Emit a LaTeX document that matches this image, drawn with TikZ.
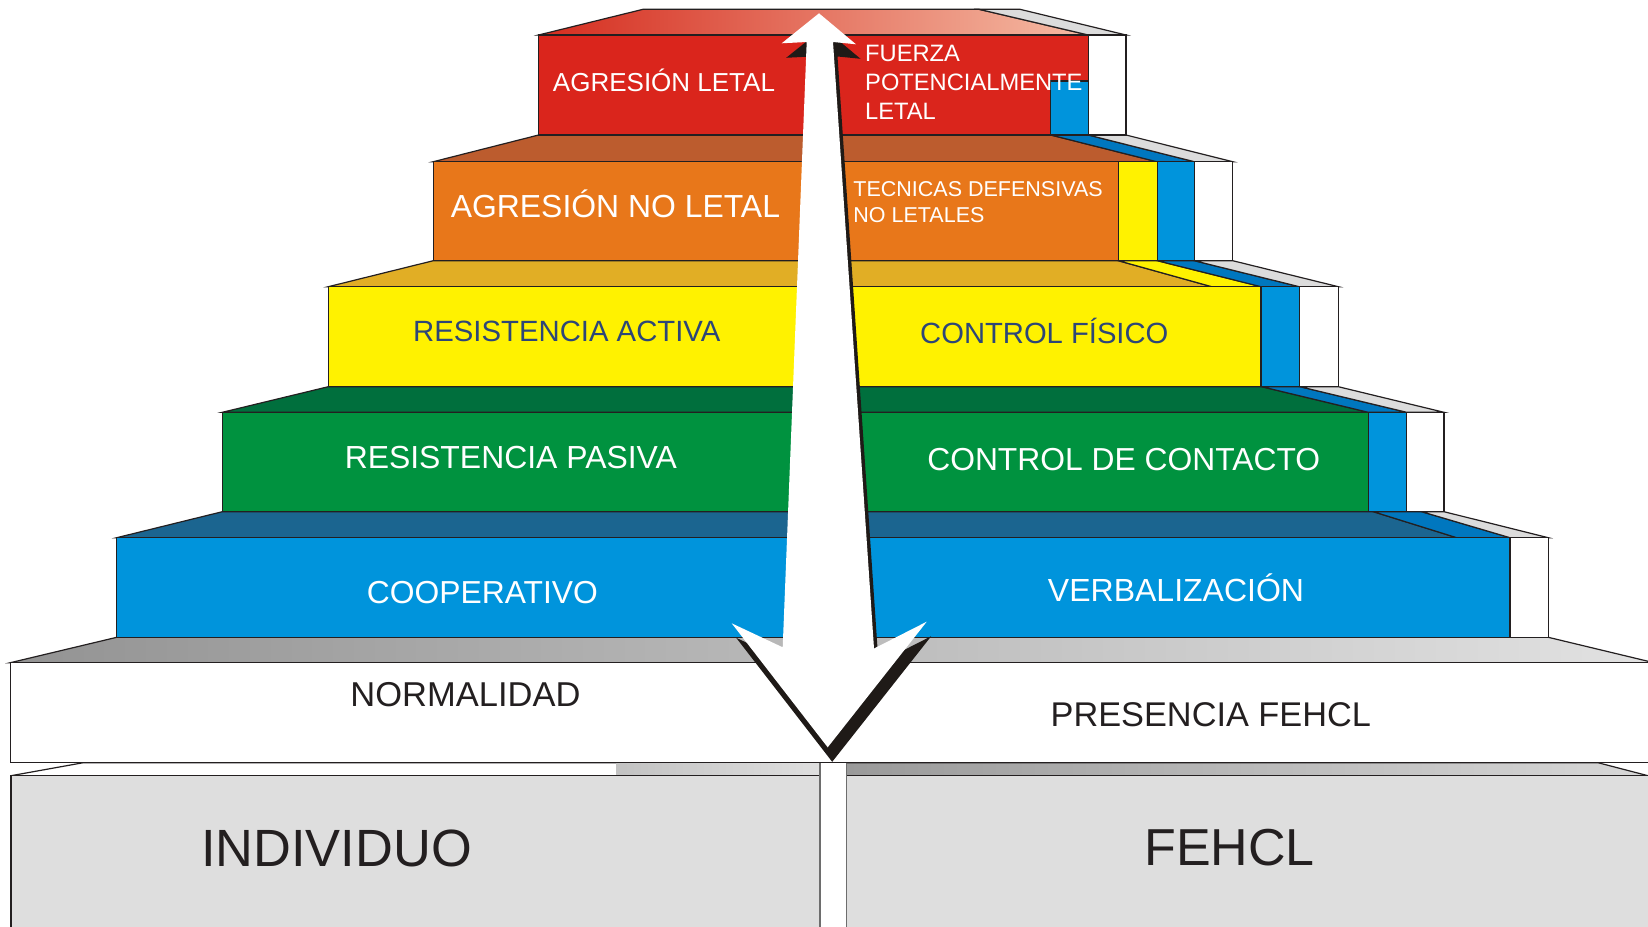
\documentclass[tikz,border=0pt]{standalone}
\usepackage{fontspec}
\setmainfont{Liberation Sans}
\newcommand{\myfs}[1]{\fontsize{#1}{#1}\selectfont}
\definecolor{outl}{HTML}{231F20}
\definecolor{cred}{HTML}{DA251C}
\definecolor{credL}{HTML}{D52D1F}
\definecolor{credR}{HTML}{F5BCA5}
\definecolor{corange}{HTML}{E8771A}
\definecolor{cbrown}{HTML}{BC5C2E}
\definecolor{cyellow}{HTML}{FFF200}
\definecolor{cochre}{HTML}{E1AE25}
\definecolor{cgreen}{HTML}{00923F}
\definecolor{cdgreen}{HTML}{006F3D}
\definecolor{cblue}{HTML}{0094DC}
\definecolor{cdblue}{HTML}{1B6590}
\definecolor{cband}{HTML}{0077BF}
\definecolor{cgrayband}{HTML}{DCDCDC}
\definecolor{cbase}{HTML}{DEDEDE}
\definecolor{cnavy}{HTML}{2D4677}
\definecolor{cshadow}{HTML}{1F1A17}
\definecolor{gslabL}{HTML}{939393}
\definecolor{gslabR}{HTML}{E2E2E2}
\definecolor{glowL}{HTML}{9A9A9A}
\definecolor{glowR}{HTML}{D8D8D8}
\definecolor{gmidL}{HTML}{C2C2C2}
\definecolor{gmidR}{HTML}{DFDFDF}
\definecolor{cgapline}{HTML}{6D6D6D}
\begin{document}
\begin{tikzpicture}[x=0.5pt,y=-0.5pt,line join=miter,
  edge/.style={draw=outl,line width=0.6pt},
  lbl/.style={anchor=base,inner sep=0pt,text=white},
  lbll/.style={anchor=base west,inner sep=0pt,text=white},
  navy/.style={anchor=base,inner sep=0pt,text=cnavy},
  blk/.style={anchor=base,inner sep=0pt,text=outl}]
\useasboundingbox (0,0) rectangle (1648,926);
\fill[white] (0,0) rectangle (1648,926);
\clip (0,0) rectangle (1648,926);

% ---------- lower base ----------
\shade[left color=glowL,right color=glowR] (846.7,762.7) -- (1598,762.7) -- (1648,775.7) -- (846.7,775.7) -- cycle;
\draw[edge] (846.7,762.7) -- (1598,762.7) -- (1648,775.7);
\filldraw[fill=white,edge] (11,775.7) -- (83.3,762.7) -- (820,762.7) -- (820,775.7) -- cycle;
\shade[left color=gmidL,right color=gmidR] (616,763) rectangle (820,775.7);
\filldraw[fill=cbase,edge] (11,775.7) rectangle (820,940);
\filldraw[fill=cbase,edge] (846.7,775.7) rectangle (1660,940);
\filldraw[fill=white,draw=cgapline,line width=0.6pt] (820,762.7) rectangle (846.7,940);

% ---------- slab ----------
\shadedraw[left color=gslabL,right color=gslabR,edge] (10.3,662.7) -- (116.7,637.3) -- (1548.3,637.3) -- (1654,662.7) -- cycle;
\filldraw[fill=white,edge] (10.3,662.7) rectangle (1660,762.7);

% ---------- level 5 (blue) ----------
\filldraw[fill=cdblue,edge] (116.7,537.7) -- (222.3,511.7) -- (1373.3,511.7) -- (1456.7,537.7) -- cycle;
\filldraw[fill=cband,edge] (1373.3,511.7) -- (1421.7,511.7) -- (1510,537.7) -- (1456.7,537.7) -- cycle;
\filldraw[fill=cgrayband,edge] (1421.7,511.7) -- (1444,511.7) -- (1548.3,537.7) -- (1510,537.7) -- cycle;
\filldraw[fill=cblue,edge] (116.7,537.7) rectangle (1510,637.3);
\filldraw[fill=white,edge] (1510,537.7) rectangle (1548.3,637.3);

% ---------- level 4 (green) ----------
\filldraw[fill=cdgreen,edge] (222.3,412.3) -- (328.3,386.7) -- (1261.7,386.7) -- (1368.3,412.3) -- cycle;
\filldraw[fill=cband,edge] (1261.7,386.7) -- (1300,386.7) -- (1406.7,412.3) -- (1368.3,412.3) -- cycle;
\filldraw[fill=cgrayband,edge] (1300,386.7) -- (1338.3,386.7) -- (1444,412.3) -- (1406.7,412.3) -- cycle;
\filldraw[fill=cgreen,edge] (222.3,412.3) rectangle (1368.3,511.7);
\filldraw[fill=cblue,edge] (1368.3,412.3) rectangle (1406.7,511.7);
\filldraw[fill=white,edge] (1406.7,412.3) rectangle (1444,511.7);

% ---------- level 3 (yellow) ----------
\filldraw[fill=cochre,edge] (328.3,286.7) -- (433.3,260.7) -- (1118.3,260.7) -- (1211.7,286.7) -- cycle;
\filldraw[fill=cyellow,edge] (1118.3,260.7) -- (1157.3,260.7) -- (1261,286.7) -- (1211.7,286.7) -- cycle;
\filldraw[fill=cband,edge] (1157.3,260.7) -- (1194.3,260.7) -- (1299.3,286.7) -- (1261,286.7) -- cycle;
\filldraw[fill=cgrayband,edge] (1194.3,260.7) -- (1232.7,260.7) -- (1338.3,286.7) -- (1299.3,286.7) -- cycle;
\filldraw[fill=cyellow,edge] (328.3,286.7) rectangle (1261,386.7);
\filldraw[fill=cblue,edge] (1261,286.7) rectangle (1299.3,386.7);
\filldraw[fill=white,edge] (1299.3,286.7) rectangle (1338.3,386.7);

% ---------- level 2 (orange) ----------
\filldraw[fill=cbrown,edge] (433.3,161.7) -- (538.6,135) -- (1050.7,135) -- (1156.7,161.7) -- cycle;
\filldraw[fill=cband,edge] (1050.7,135) -- (1088.3,135) -- (1194.3,161.7) -- (1156.7,161.7) -- cycle;
\filldraw[fill=cgrayband,edge] (1088.3,135) -- (1126,135) -- (1232.7,161.7) -- (1194.3,161.7) -- cycle;
\filldraw[fill=corange,edge] (433.3,161.7) rectangle (1118.3,260.7);
\filldraw[fill=cyellow,edge] (1118.3,161.7) rectangle (1157.3,260.7);
\filldraw[fill=cblue,edge] (1157.3,161.7) rectangle (1194.3,260.7);
\filldraw[fill=white,edge] (1194.3,161.7) rectangle (1232.7,260.7);

% ---------- level 1 (red) ----------
\shadedraw[left color=credL,right color=credR,edge] (538.6,35) -- (643,9.3) -- (979,9.3) -- (1088.3,35) -- cycle;
\filldraw[fill=cgrayband,edge] (979,9.3) -- (1020,9.3) -- (1126,35) -- (1088.3,35) -- cycle;
\filldraw[fill=cred,edge] (538.6,35) rectangle (1088.3,135);
\filldraw[fill=cblue,edge] (1050.7,81) rectangle (1088.3,135);
\filldraw[fill=white,edge] (1088.3,35) rectangle (1126,135);

% ---------- double arrow ----------
\begin{scope}[shift={(4.5,14.5)}]
\fill[cshadow] (819,13.3) -- (856,44.3) -- (833,42) -- (874,648.5) -- (926.7,621.7) -- (827.7,747.3) -- (731.7,623.3) -- (782.7,647.3) -- (806.7,42) -- (781.7,43.3) -- cycle;
\end{scope}
\fill[white] (819,13.3) -- (856,44.3) -- (833,42) -- (874,648.5) -- (926.7,621.7) -- (827.7,747.3) -- (731.7,623.3) -- (782.7,647.3) -- (806.7,42) -- (781.7,43.3) -- cycle;

% ---------- texts ----------
\node[lbl,font=\myfs{13pt}] (t1) at (664,91.7) {AGRESIÓN LETAL};
\node[lbll,font=\myfs{11.85pt}] (t2a) at (864.8,61.7) {FUERZA};
\node[lbll,font=\myfs{11.85pt}] (t2b) at (864.8,90.7) {POTENCIALMENTE};
\node[lbll,font=\myfs{11.85pt}] (t2c) at (864.8,119.3) {LETAL};
\node[lbl,font=\myfs{15.95pt}] (t3) at (615.4,217.7) {AGRESIÓN NO LETAL};
\node[lbll,font=\myfs{10.75pt}] (t4a) at (853,196) {TECNICAS DEFENSIVAS};
\node[lbll,font=\myfs{10.75pt}] (t4b) at (853,222) {NO LETALES};
\node[navy,font=\myfs{14.65pt}] (t5) at (566.8,341.7) {RESISTENCIA ACTIVA};
\node[navy,font=\myfs{14.6pt}] (t6) at (1044.3,343.3) {CONTROL FÍSICO};
\node[lbl,font=\myfs{15.95pt}] (t7) at (510.8,468.3) {RESISTENCIA PASIVA};
\node[lbl,font=\myfs{15.9pt}] (t8) at (1123.7,470) {CONTROL DE CONTACTO};
\node[lbl,font=\myfs{15.9pt}] (t9) at (482.4,603) {COOPERATIVO};
\node[lbl,font=\myfs{16pt}] (t10) at (1176,601.7) {VERBALIZACIÓN};
\node[blk,font=\myfs{17.25pt}] (t11) at (465.5,706) {NORMALIDAD};
\node[blk,font=\myfs{17.15pt}] (t12) at (1210.8,726) {PRESENCIA FEHCL};
\node[blk,font=\myfs{26.2pt}] (t13) at (336.4,866) {INDIVIDUO};
\node[blk,font=\myfs{26pt}] (t14) at (1229.6,865.7) {FEHCL};
\end{tikzpicture}
\end{document}
